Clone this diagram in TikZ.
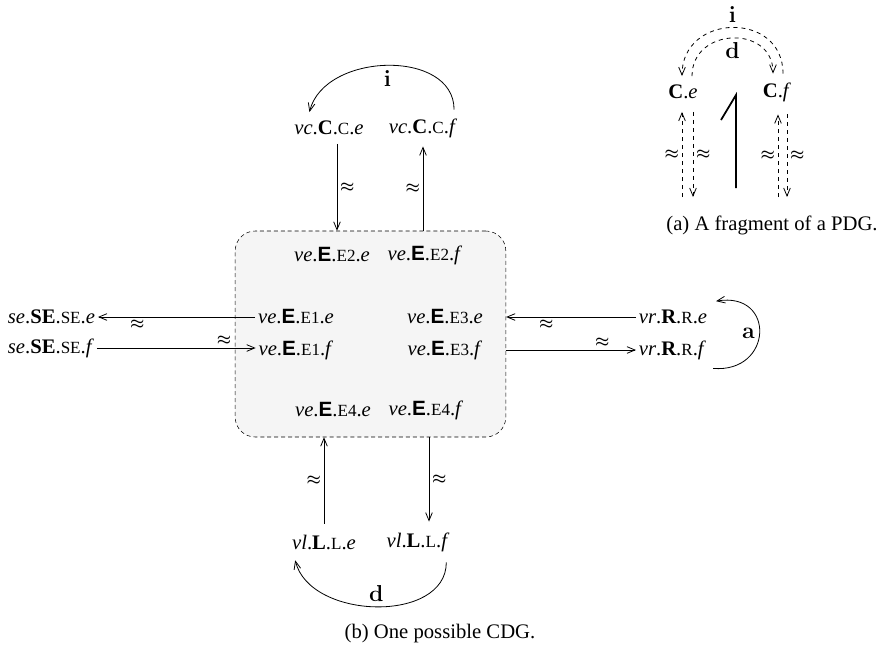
\documentclass[tikz,border=0pt]{standalone}
\usepackage[no-math]{fontspec}
\usepackage{bm}
\setmainfont{Liberation Serif}
\newfontfamily\sansE{Liberation Sans}
\usepackage{tikz}
\usetikzlibrary{arrows.meta,calc,positioning}
\definecolor{boxgray}{HTML}{F5F5F5}
\newcommand{\sm}[1]{{\fontsize{12.8}{14}\selectfont #1}}
\newcommand{\dotname}[4]{\textit{#1}.\textbf{#2}.\sm{#3}.\textit{#4}}
\newcommand{\vename}[2]{\textit{ve}.{\sansE\bfseries E}.\sm{E#1}.\textit{#2}}
\newcommand{\apx}{{\fontsize{13}{14}\selectfont$\bm{\approx}$}}
\newcommand{\kind}[1]{{\fontsize{18}{20}\selectfont$\mathbf{#1}$}}
\tikzset{
  arr/.style={-{Straight Barb[length=6pt,width=5pt]}, line width=0.6pt},
  darr/.style={arr, dashed},
  vname/.style={inner sep=2pt},
  apxlbl/.style={inner sep=2pt},
  ebox/.style={draw, dash pattern=on 3pt off 2.2pt, fill=boxgray, rounded corners=15pt, minimum width=203pt, minimum height=154.5pt}
}
\begin{document}
\begin{tikzpicture}[x=0.75pt, y=-0.75pt, font=\fontsize{15.5}{18}\selectfont]
  \useasboundingbox (0,0) rectangle (876,654);
  % (b) one possible CDG
  \node[ebox] (box) at (370.5,334) {};
  \node[vname] (ce) at (329,128) {\dotname{vc}{C}{C}{e}};
  \node[vname] (cf) at (423,128) {\dotname{vc}{C}{C}{f}};
  \node[vname] (e2e) at (332,255) {\vename{2}{e}};
  \node[vname] (e2f) at (425,255) {\vename{2}{f}};
  \node[vname] (e1e) at (296,317) {\vename{1}{e}};
  \node[vname] (e1f) at (296,350) {\vename{1}{f}};
  \node[vname] (e3e) at (445,317) {\vename{3}{e}};
  \node[vname] (e3f) at (445,350) {\vename{3}{f}};
  \node[vname] (e4e) at (333,410) {\vename{4}{e}};
  \node[vname] (e4f) at (426,410) {\vename{4}{f}};
  \node[vname, anchor=west] (see) at (5,317) {\dotname{se}{SE}{SE}{e}};
  \node[vname, anchor=west] (sef) at (5,348) {\dotname{se}{SE}{SE}{f}};
  \node[vname, anchor=west] (re) at (636,317) {\dotname{vr}{R}{R}{e}};
  \node[vname, anchor=west] (rf) at (636,350) {\dotname{vr}{R}{R}{f}};
  \node[vname] (le) at (324,542) {\dotname{vl}{L}{L}{e}};
  \node[vname] (lf) at (418,542) {\dotname{vl}{L}{L}{f}};
  \coordinate (cein) at ($(ce.south)+(8,6)$);
  \coordinate (lfin) at ($(lf.north)+(11,-8)$);

  \draw[arr] (cein) -- node[apxlbl, right] {\apx} (cein |- box.north);
  \draw[arr] (cf.south |- box.north) -- node[apxlbl, left] {\apx} ($(cf.south)+(0,6)$);
  \draw[arr] (e1e.west) -- node[apxlbl, pos=0.75, below] {\apx} (see.east);
  \draw[arr] (sef.east) -- node[apxlbl, pos=0.8, above] {\apx} (sef.east -| e1f.west);
  \draw[arr] (re.west) -- node[apxlbl, pos=0.69, below] {\apx} (re.west -| box.east);
  \draw[arr] (rf.west -| box.east) -- node[apxlbl, pos=0.74, above] {\apx} (rf.west);
  \draw[arr] ($(le.north)+(0,-8)$) -- node[apxlbl, left] {\apx} (le.north |- box.south);
  \draw[arr] (lfin |- box.south) -- node[apxlbl, right] {\apx} (lfin);

  \draw[arr] ($(cf.north east)+(-6,-6)$) .. controls +(0,-61) and +(15,-60) .. node[below] {\kind{i}} ($(ce.north west)+(18,-6)$);
  \draw[arr] ($(lf.south east)+(-6,8)$) .. controls +(0,61) and +(15,60) .. node[above] {\kind{d}} ($(le.south west)+(6,8)$);
  \draw[arr] ($(rf.south east)+(4,6)$) .. controls +(60,5) and +(60,-10) .. node[left] {\kind{a}} ($(re.north east)+(6,-6)$);
  \node (capb) at (440,634) {(b) One possible CDG.};

  % (a) a fragment of a PDG
  \node[vname] (pce) at (683,92) {\textbf{C}.\textit{e}};
  \node[vname] (pcf) at (777,92) {\textbf{C}.\textit{f}};
  \coordinate (pel) at (682,197);
  \coordinate (per) at (693,197);
  \coordinate (pfl) at (778,197);
  \coordinate (pfr) at (787,197);
  \draw[darr] ($(pcf.north)+(6,-6)$) .. controls +(0,-63) and +(0,-63) .. node[above] {\kind{i}} ($(pce.north)+(-1,-6)$);
  \draw[darr] ($(pce.north)+(9,-6)$) .. controls +(0,-49) and +(0,-49) .. node[below] {\kind{d}} ($(pcf.north)+(-4,-6)$);
  \draw[darr] (pel) -- node[apxlbl, left] {\apx} (pel |- {$(pce.south)+(0,10)$});
  \draw[darr] (per |- {$(pce.south)+(0,10)$}) -- node[apxlbl, right] {\apx} (per);
  \draw[darr] (pfl) -- node[apxlbl, left] {\apx} (pfl |- {$(pcf.south)+(0,10)$});
  \draw[darr] (pfr |- {$(pcf.south)+(0,10)$}) -- node[apxlbl, right] {\apx} (pfr);
  \draw[line width=1.3pt] (721,120) -- (736,95) -- (736,188);
  \node (capa) at (772,225) {(a) A fragment of a PDG.};
\end{tikzpicture}
\end{document}
